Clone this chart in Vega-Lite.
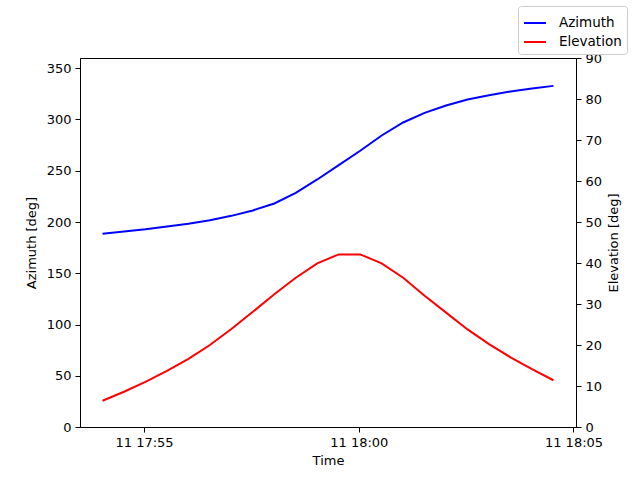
{
  "$schema": "https://vega.github.io/schema/vega-lite/v6.json",
  "autosize": {"type": "none"},
  "width": 496,
  "height": 369,
  "padding": {"left": 80, "top": 58, "right": 64, "bottom": 53},
  "background": "white",
  "config": {
    "view": {"stroke": "black", "strokeWidth": 1},
    "font": "DejaVu Sans",
    "axis": {
      "grid": false,
      "domainColor": "black",
      "tickColor": "black",
      "tickSize": 5,
      "labelPadding": 4,
      "labelFontSize": 13,
      "labelColor": "black",
      "titleFontSize": 13,
      "titleFontWeight": "normal",
      "titleColor": "black",
      "labelFont": "DejaVu Sans",
      "titleFont": "DejaVu Sans"
    },
    "legend": {
      "orient": "none",
      "legendX": 438,
      "legendY": -52,
      "padding": 5,
      "fillColor": "white",
      "strokeColor": "#cccccc",
      "cornerRadius": 3,
      "symbolType": "stroke",
      "symbolSize": 484,
      "symbolStrokeWidth": 2,
      "labelFontSize": 13.5,
      "labelFont": "DejaVu Sans",
      "labelColor": "black",
      "rowPadding": 0,
      "labelOffset": 12
    }
  },
  "data": {
    "values": [
      {"time": "2021-03-11T17:54:02Z", "azimuth": 188.5, "elevation": 6.4},
      {"time": "2021-03-11T17:54:32Z", "azimuth": 190.8, "elevation": 8.6},
      {"time": "2021-03-11T17:55:02Z", "azimuth": 193.0, "elevation": 11.0},
      {"time": "2021-03-11T17:55:32Z", "azimuth": 195.7, "elevation": 13.7},
      {"time": "2021-03-11T17:56:02Z", "azimuth": 198.2, "elevation": 16.6},
      {"time": "2021-03-11T17:56:32Z", "azimuth": 201.8, "elevation": 20.0},
      {"time": "2021-03-11T17:57:02Z", "azimuth": 206.0, "elevation": 23.9},
      {"time": "2021-03-11T17:57:32Z", "azimuth": 211.3, "elevation": 28.1},
      {"time": "2021-03-11T17:58:02Z", "azimuth": 218.1, "elevation": 32.4},
      {"time": "2021-03-11T17:58:32Z", "azimuth": 228.4, "elevation": 36.4},
      {"time": "2021-03-11T17:59:02Z", "azimuth": 241.5, "elevation": 39.9},
      {"time": "2021-03-11T17:59:32Z", "azimuth": 255.5, "elevation": 42.1},
      {"time": "2021-03-11T18:00:02Z", "azimuth": 269.5, "elevation": 42.1},
      {"time": "2021-03-11T18:00:32Z", "azimuth": 284.4, "elevation": 39.9},
      {"time": "2021-03-11T18:01:02Z", "azimuth": 297.1, "elevation": 36.4},
      {"time": "2021-03-11T18:01:32Z", "azimuth": 306.5, "elevation": 32.0},
      {"time": "2021-03-11T18:02:02Z", "azimuth": 313.6, "elevation": 27.9},
      {"time": "2021-03-11T18:02:32Z", "azimuth": 319.5, "elevation": 23.8},
      {"time": "2021-03-11T18:03:02Z", "azimuth": 323.7, "elevation": 20.2},
      {"time": "2021-03-11T18:03:32Z", "azimuth": 327.3, "elevation": 17.0},
      {"time": "2021-03-11T18:04:02Z", "azimuth": 330.2, "elevation": 14.1},
      {"time": "2021-03-11T18:04:32Z", "azimuth": 332.8, "elevation": 11.4}
    ]
  },
  "encoding": {
    "x": {
      "field": "time",
      "type": "temporal",
      "title": "Time",
      "scale": {
        "type": "utc",
        "domain": [
          {"year": 2021, "month": 3, "date": 11, "hours": 17, "minutes": 53, "seconds": 30, "milliseconds": 500, "utc": true},
          {"year": 2021, "month": 3, "date": 11, "hours": 18, "minutes": 5, "seconds": 3, "milliseconds": 500, "utc": true}
        ]
      },
      "axis": {
        "values": [
          {"year": 2021, "month": 3, "date": 11, "hours": 17, "minutes": 55, "utc": true},
          {"year": 2021, "month": 3, "date": 11, "hours": 18, "minutes": 0, "utc": true},
          {"year": 2021, "month": 3, "date": 11, "hours": 18, "minutes": 5, "utc": true}
        ],
        "format": "%d %H:%M",
        "labelFlush": false,
        "labelOverlap": false,
        "titlePadding": 5
      }
    }
  },
  "layer": [
    {
      "mark": {"type": "line", "strokeWidth": 2},
      "encoding": {
        "y": {
          "field": "azimuth",
          "type": "quantitative",
          "title": "Azimuth [deg]",
          "scale": {"domain": [0, 360], "nice": false},
          "axis": {"values": [0, 50, 100, 150, 200, 250, 300, 350], "orient": "left", "titlePadding": 8}
        },
        "color": {
          "datum": "Azimuth",
          "type": "nominal",
          "scale": {"domain": ["Azimuth", "Elevation"], "range": ["blue", "red"]},
          "legend": {"title": null}
        }
      }
    },
    {
      "mark": {"type": "line", "strokeWidth": 2},
      "encoding": {
        "y": {
          "field": "elevation",
          "type": "quantitative",
          "title": "Elevation [deg]",
          "scale": {"domain": [0, 90], "nice": false},
          "axis": {"values": [0, 10, 20, 30, 40, 50, 60, 70, 80, 90], "orient": "right", "titleAngle": 270, "titleBaseline": "top", "titlePadding": 6}
        },
        "color": {"datum": "Elevation", "type": "nominal"}
      }
    }
  ],
  "resolve": {"scale": {"y": "independent"}}
}
